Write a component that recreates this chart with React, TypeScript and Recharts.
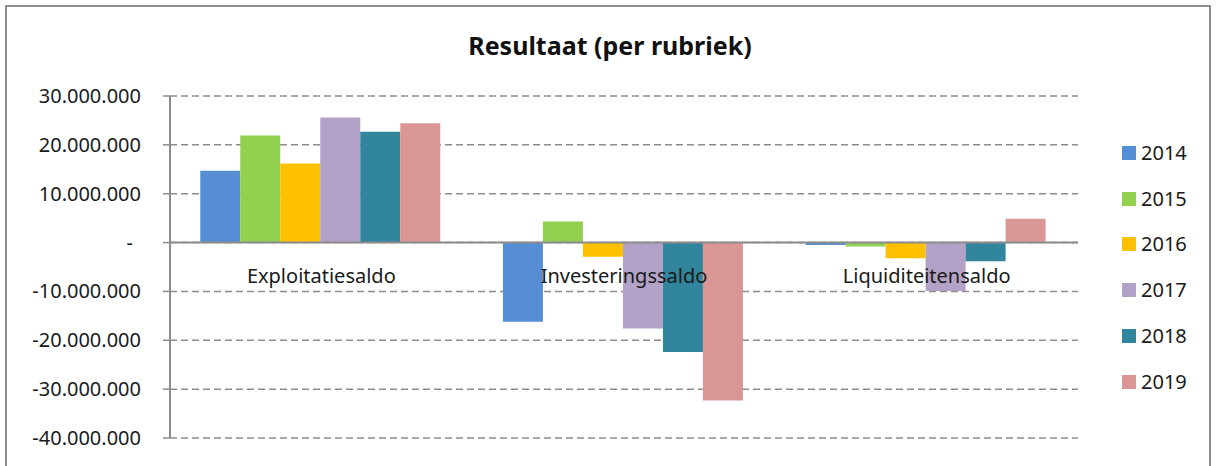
import React from 'react';
import {
    BarChart,
    Bar,
    XAxis,
    YAxis,
    CartesianGrid,
    ReferenceLine,
    ReferenceDot
} from 'recharts';

const categories = ['Exploitatiesaldo', 'Investeringssaldo', 'Liquiditeitensaldo'];
const years = ['2014', '2015', '2016', '2017', '2018', '2019'];
const colors = ['#558ED5', '#92D050', '#FFC000', '#B3A2C7', '#31859C', '#D99694'];

// per jaar: exploitatie, investering, liquiditeit
const values2014 = [14700000, -16200000, -500000];
const values2015 = [21900000, 4300000, -800000];
const values2016 = [16200000, -2900000, -3200000];
const values2017 = [25600000, -17600000, -9900000];
const values2018 = [22700000, -22400000, -3800000];
const values2019 = [24400000, -32300000, 4900000];

const yTicks = [-40000000, -30000000, -20000000, -10000000, 0, 10000000, 20000000, 30000000];

const series = [values2014, values2015, values2016, values2017, values2018, values2019];

const data = categories.map((name, i) => {
    const row: Record<string, string | number> = { name };
    years.forEach((y, j) => {
        row[y] = series[j][i];
    });
    return row;
});

const FONT = '"Noto Sans", sans-serif';

const fmt = (v: number) => {
    if (v === 0) return '-';
    const s = Math.abs(v).toString().replace(/\B(?=(\d{3})+(?!\d))/g, '.');
    return v < 0 ? '-' + s : s;
};

const YTick = (props: any) => {
    const { x, y, payload } = props;
    const isZero = payload.value === 0;
    return (
        <text
            x={isZero ? x - 8 : x}
            y={y}
            dy="0.35em"
            textAnchor="end"
            fontFamily={FONT}
            fontSize={20}
            fill="#1a1a1a"
        >
            {fmt(payload.value)}
        </text>
    );
};

export default function App() {
    return (
        <div
            style={{
                position: 'fixed',
                left: 0,
                top: 0,
                width: 1216,
                height: 466,
                background: '#fff',
                overflow: 'hidden',
                fontFamily: FONT
            }}
        >
            {/* chart frame */}
            <div
                style={{
                    position: 'absolute',
                    left: 5,
                    top: 5,
                    width: 1206,
                    height: 480,
                    border: '2px solid #8c8c8c',
                    boxSizing: 'border-box'
                }}
            />
            <div
                style={{
                    position: 'absolute',
                    left: 0,
                    width: 1220,
                    top: 28,
                    textAlign: 'center',
                    fontSize: 25,
                    fontWeight: 700,
                    color: '#111'
                }}
            >
                Resultaat (per rubriek)
            </div>

            <div style={{ position: 'absolute', left: 0, top: 0 }}>
                <BarChart
                    width={1216}
                    height={466}
                    data={data}
                    margin={{ top: 96, right: 138, bottom: 28, left: 0 }}
                    barCategoryGap="10%"
                    barGap={0}
                >
                    <CartesianGrid
                        vertical={false}
                        stroke="#8c8c8c"
                        strokeWidth={1.5}
                        strokeDasharray="7 4"
                    />
                    <XAxis dataKey="name" hide />
                    <YAxis
                        width={170}
                        domain={[-40000000, 30000000]}
                        ticks={yTicks}
                        interval={0}
                        axisLine={{ stroke: '#8c8c8c', strokeWidth: 2 }}
                        tickLine={{ stroke: '#8c8c8c', strokeWidth: 1.5 }}
                        tickSize={7}
                        tickMargin={22}
                        tick={<YTick />}
                    />
                    {years.map((y, j) => (
                        <Bar key={y} dataKey={y} fill={colors[j]} isAnimationActive={false} />
                    ))}
                    <ReferenceLine y={0} stroke="#8c8c8c" strokeWidth={2} />
                    {categories.map((c) => (
                        <ReferenceDot
                            key={c}
                            x={c}
                            y={0}
                            r={0}
                            fill="none"
                            stroke="none"
                            ifOverflow="visible"
                            label={{
                                value: c,
                                position: 'bottom',
                                offset: 26,
                                fontFamily: FONT,
                                fontSize: 20,
                                fill: '#1a1a1a'
                            }}
                        />
                    ))}
                </BarChart>
            </div>

            {/* legend */}
            <div style={{ position: 'absolute', left: 1122, top: 130 }}>
                {years.map((y, j) => (
                    <div
                        key={y}
                        style={{ display: 'flex', alignItems: 'center', height: 45.8 }}
                    >
                        <span
                            style={{
                                display: 'inline-block',
                                width: 14,
                                height: 14,
                                background: colors[j],
                                marginRight: 5
                            }}
                        />
                        <span style={{ fontSize: 20, color: '#1a1a1a', lineHeight: '24px' }}>{y}</span>
                    </div>
                ))}
            </div>
        </div>
    );
}
